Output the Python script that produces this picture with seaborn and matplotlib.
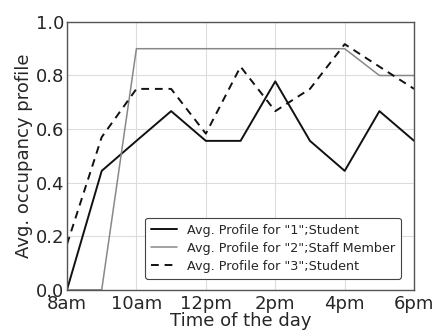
import matplotlib
matplotlib.use("Agg")
import matplotlib.pyplot as plt
import seaborn as sns
import pandas as pd

hours = [8, 9, 10, 11, 12, 13, 14, 15, 16, 17, 18]
profile1 = [0.0, 0.444, 0.556, 0.667, 0.556, 0.556, 0.778, 0.556, 0.444, 0.667, 0.556]
profile2 = [0.0, 0.0, 0.9, 0.9, 0.9, 0.9, 0.9, 0.9, 0.9, 0.8, 0.8]
profile3 = [0.17, 0.57, 0.75, 0.75, 0.583, 0.833, 0.667, 0.75, 0.917, 0.833, 0.75]
labels = ['Avg. Profile for "1";Student',
          'Avg. Profile for "2";Staff Member',
          'Avg. Profile for "3";Student']
tick_pos = [8, 10, 12, 14, 16, 18]
tick_labels = ["8am", "10am", "12pm", "2pm", "4pm", "6pm"]
yticks = [0.0, 0.2, 0.4, 0.6, 0.8, 1.0]

sns.set_style("whitegrid", {"grid.color": "#dddddd", "axes.edgecolor": "#555555"})
plt.rcParams['font.family'] = ['DejaVu Sans']

fig = plt.figure(figsize=(4.35, 3.32), dpi=100)
ax = fig.add_axes([0.154, 0.127, 0.798, 0.807])

df1 = pd.DataFrame({"t": hours, "v": profile1})
df2 = pd.DataFrame({"t": hours, "v": profile2})
df3 = pd.DataFrame({"t": hours, "v": profile3})
sns.lineplot(data=df1, x="t", y="v", ax=ax, color="#111111", linewidth=1.4, label=labels[0])
sns.lineplot(data=df2, x="t", y="v", ax=ax, color="#888888", linewidth=1.1, label=labels[1])
sns.lineplot(data=df3, x="t", y="v", ax=ax, color="#111111", linewidth=1.4,
             linestyle=(0, (4, 3)), label=labels[2])

ax.set_xlim(8, 18)
ax.set_ylim(0, 1.0)
ax.set_xticks(tick_pos)
ax.set_xticklabels(tick_labels, fontsize=13)
ax.set_yticks(yticks)
ax.set_yticklabels([f"{v:.1f}" for v in yticks], fontsize=13)
ax.tick_params(axis="y", length=0, pad=2)
ax.tick_params(axis="x", length=0, pad=4)
ax.set_xlabel("Time of the day", fontsize=13, labelpad=-1)
ax.set_ylabel("Avg. occupancy profile", fontsize=13, labelpad=2)
for s in ax.spines.values():
    s.set_linewidth(1.0)

leg = ax.legend(loc="lower right", fontsize=9.2, frameon=True, fancybox=True,
                framealpha=1, edgecolor="#444444", handlelength=2.0,
                borderpad=0.45, labelspacing=0.4, bbox_to_anchor=(0.98, 0.018))
leg.get_frame().set_linewidth(0.8)

fig.savefig("out.png", dpi=100)
